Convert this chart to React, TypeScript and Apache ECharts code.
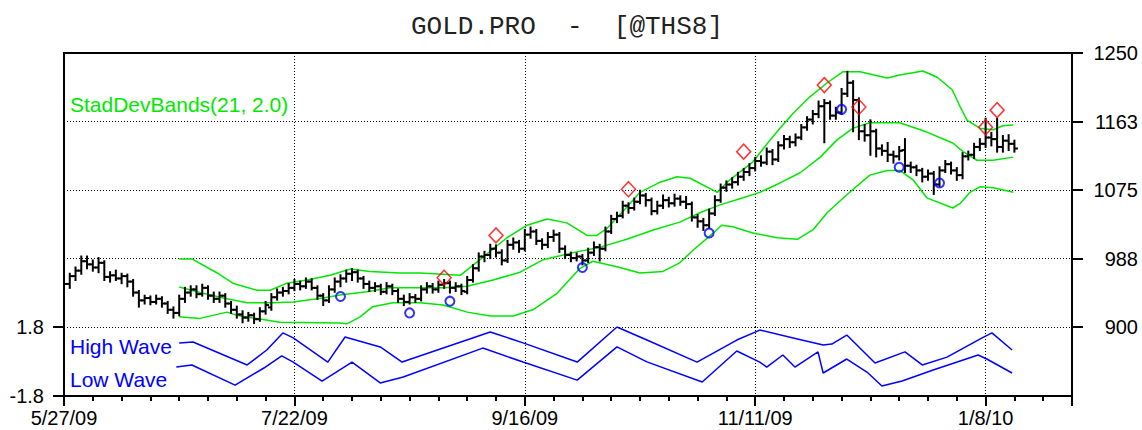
import React, { useEffect, useRef } from 'react';
import * as echarts from 'echarts';

// x positions are trading-bar indices; labelled bars
const dateTickIndex = [0, 40, 80, 120, 160];
const dateTickLabels = ['5/27/09', '7/22/09', '9/16/09', '11/11/09', '1/8/10'];

// [open, high, low, close] per bar
const ohlc: number[][] = [
  [950, 962, 943, 955], [955, 968, 950, 965], [965, 976, 960, 972], [972, 990, 968, 984], [984, 990, 975, 980],
  [980, 985, 972, 976], [976, 988, 970, 982], [982, 984, 960, 964], [964, 970, 958, 966], [966, 972, 960, 962],
  [962, 968, 956, 965], [965, 967, 952, 958], [958, 960, 940, 944], [944, 946, 926, 934], [934, 940, 930, 937],
  [937, 939, 929, 932], [932, 940, 930, 936], [936, 938, 926, 930], [930, 932, 918, 922], [922, 925, 912, 918],
  [918, 940, 915, 936], [936, 950, 932, 944], [944, 952, 940, 948], [948, 952, 938, 942], [942, 954, 940, 950],
  [950, 952, 936, 940], [940, 944, 932, 936], [936, 944, 932, 940], [940, 942, 926, 930], [930, 932, 918, 922],
  [922, 926, 912, 916], [916, 920, 906, 912], [912, 918, 908, 915], [915, 917, 905, 910], [910, 924, 908, 920],
  [920, 932, 917, 928], [925, 942, 922, 938], [938, 948, 935, 944], [944, 950, 940, 946], [946, 955, 943, 950],
  [950, 960, 947, 955], [955, 958, 948, 952], [952, 962, 950, 958], [958, 961, 948, 950], [950, 952, 936, 940],
  [940, 942, 928, 934], [934, 952, 932, 948], [948, 962, 945, 958], [958, 966, 952, 962], [962, 972, 958, 968],
  [968, 974, 960, 970], [970, 972, 958, 962], [962, 964, 950, 955], [955, 958, 946, 950], [950, 956, 946, 952],
  [952, 954, 942, 945], [945, 956, 943, 952], [952, 954, 942, 946], [946, 948, 932, 936], [936, 940, 928, 932],
  [932, 942, 930, 938], [938, 941, 932, 936], [936, 952, 934, 948], [948, 956, 944, 952], [952, 955, 944, 948],
  [948, 958, 945, 954], [954, 960, 950, 956], [956, 958, 944, 950], [950, 956, 946, 952], [952, 954, 942, 946],
  [945, 964, 943, 960], [960, 979, 958, 975], [975, 994, 972, 990], [990, 996, 984, 992], [992, 1005, 988, 1000],
  [1000, 1004, 990, 995], [995, 998, 980, 985], [985, 1010, 983, 1005], [1005, 1013, 1000, 1008], [1008, 1010, 996, 1000],
  [1000, 1024, 998, 1018], [1018, 1027, 1014, 1022], [1022, 1024, 1006, 1010], [1010, 1012, 1000, 1005], [1005, 1020, 1002, 1015],
  [1015, 1023, 1010, 1018], [1018, 1020, 996, 1000], [1000, 1003, 988, 992], [992, 995, 984, 988], [988, 994, 985, 990],
  [990, 992, 980, 985], [985, 1000, 983, 995], [995, 1008, 992, 1002], [1002, 1005, 985, 1000], [1000, 1027, 998, 1022],
  [1022, 1042, 1020, 1038], [1038, 1046, 1034, 1042], [1042, 1060, 1040, 1055], [1055, 1058, 1046, 1052], [1052, 1064, 1050, 1060],
  [1060, 1074, 1058, 1068], [1068, 1070, 1055, 1062], [1062, 1064, 1044, 1048], [1048, 1060, 1045, 1055], [1055, 1068, 1052, 1062],
  [1062, 1065, 1054, 1058], [1058, 1069, 1055, 1064], [1064, 1067, 1056, 1060], [1060, 1066, 1052, 1057], [1057, 1059, 1036, 1040],
  [1040, 1043, 1028, 1035], [1035, 1038, 1024, 1030], [1030, 1050, 1027, 1045], [1045, 1067, 1043, 1062], [1062, 1082, 1060, 1078],
  [1078, 1086, 1074, 1082], [1082, 1090, 1078, 1085], [1085, 1097, 1082, 1092], [1092, 1102, 1088, 1098], [1098, 1108, 1094, 1103],
  [1103, 1116, 1100, 1112], [1112, 1118, 1106, 1110], [1110, 1128, 1108, 1124], [1124, 1126, 1108, 1114], [1114, 1136, 1112, 1132],
  [1132, 1144, 1128, 1140], [1140, 1143, 1130, 1136], [1136, 1146, 1132, 1142], [1142, 1158, 1140, 1155], [1155, 1168, 1152, 1165],
  [1165, 1176, 1160, 1172], [1172, 1188, 1168, 1182], [1182, 1190, 1136, 1186], [1186, 1188, 1166, 1170], [1170, 1180, 1166, 1174],
  [1174, 1204, 1172, 1198], [1198, 1226, 1195, 1212], [1212, 1214, 1150, 1190], [1190, 1192, 1140, 1150], [1150, 1158, 1138, 1145],
  [1145, 1164, 1120, 1150], [1150, 1152, 1118, 1128], [1128, 1132, 1120, 1125], [1125, 1135, 1112, 1120], [1120, 1124, 1110, 1118],
  [1118, 1130, 1114, 1125], [1126, 1140, 1098, 1106], [1106, 1110, 1098, 1104], [1104, 1106, 1094, 1100], [1100, 1102, 1086, 1092],
  [1092, 1100, 1088, 1096], [1096, 1098, 1070, 1082], [1082, 1104, 1080, 1100], [1100, 1112, 1098, 1108], [1108, 1110, 1096, 1100],
  [1100, 1103, 1088, 1094], [1094, 1122, 1090, 1118], [1118, 1124, 1114, 1120], [1120, 1134, 1116, 1130], [1130, 1140, 1126, 1134],
  [1134, 1166, 1130, 1142], [1142, 1148, 1132, 1140], [1140, 1166, 1124, 1130], [1130, 1144, 1124, 1138], [1138, 1145, 1126, 1134],
  [1134, 1138, 1124, 1128],
];

// StadDevBands(21, 2.0): [bar, price]
const upperBand: number[][] = [
  [20, 987], [22.2, 987], [26.6, 969], [29.3, 956], [33.5, 947], [35.8, 947], [38.7, 956], [42.2, 960], [46.2, 966],
  [49.7, 974], [53.1, 971], [58.3, 969], [61.8, 969], [68.8, 966], [72.7, 989], [76.9, 1014], [80.4, 1030], [83.9, 1038],
  [87.3, 1033], [90.8, 1017], [92.5, 1017], [94.3, 1026], [97.7, 1053], [100, 1072], [103.5, 1085], [106.4, 1092],
  [108.7, 1090], [113.4, 1072], [115.6, 1088], [119.6, 1111], [122.6, 1139], [124.3, 1154], [126.6, 1173], [129.5, 1194],
  [132.5, 1212], [135.2, 1226], [138.2, 1226], [142.9, 1218], [145.1, 1222], [149.1, 1227], [151.6, 1219], [154.2, 1203],
  [155.6, 1181], [156.8, 1164], [159, 1154], [161.3, 1152], [163, 1157], [164.8, 1158],
];
const middleBand: number[][] = [
  [20, 951], [24.1, 943], [28.3, 936], [31.8, 931], [36.3, 931], [39.8, 932], [45, 937], [47.9, 941], [52.6, 945],
  [56.6, 950], [61.8, 950], [65.8, 950], [70, 952], [74.5, 960], [79.2, 970], [83.2, 986], [88.4, 995], [93.1, 1002],
  [97.7, 1012], [102.3, 1024], [106.9, 1034], [110.4, 1046], [113.9, 1056], [117.9, 1065], [120.8, 1072], [124.3, 1084],
  [127.8, 1097], [131.3, 1117], [134.2, 1139], [137, 1154], [139.9, 1161], [145.1, 1161], [149.8, 1149], [154.3, 1135],
  [156.1, 1124], [158.5, 1113], [161.3, 1113], [164.8, 1117],
];
const lowerBand: number[][] = [
  [20, 913], [23.6, 911], [28.3, 919], [30, 915], [37.5, 906], [47.9, 905], [49.1, 904], [51.4, 913], [53.6, 926],
  [57.1, 931], [61.8, 931], [65.8, 928], [70, 919], [74, 914], [78, 914], [81.4, 922], [85.6, 943], [89.6, 975],
  [91.8, 984], [96, 977], [100, 969], [104, 971], [106.9, 982], [109.2, 998], [112.7, 1020], [114.2, 1030], [116.1, 1028],
  [119.6, 1020], [123.8, 1014], [127.3, 1012], [130, 1024], [132.5, 1046], [135.9, 1069], [139.9, 1094], [142.9, 1100],
  [145.1, 1100], [147.4, 1088], [149.8, 1065], [154.3, 1052], [155.6, 1058], [157.3, 1072], [159, 1079], [161.3, 1078],
  [164.8, 1072],
];

const sellSignals: number[][] = [[66, 963], [75, 1017], [98, 1076], [118, 1124], [132, 1209], [138, 1181], [160, 1155], [162, 1177]];
const buySignals: number[][] = [[48, 939], [60, 918], [67, 933], [90, 976], [112, 1020], [135, 1178], [145, 1104], [152, 1084]];

const highWave: number[][] = [
  [20, 0.97], [22.4, 1.02], [31.8, -0.18], [35.2, 0.6], [38, 1.49], [39.8, 1.23], [45.8, -0.03], [48.8, 1.28], [54.9, 0.76],
  [58.7, -0.03], [74, 1.54], [79.7, 0.97], [89.1, -0.03], [96, 1.8], [101.2, 1.12], [109.9, -0.03], [116.8, 1.12],
  [120.8, 1.64], [126.6, 1.23], [131.8, 0.86], [133.3, 0.91], [135.9, 1.38], [140.8, -0.08], [146, 0.5], [149, -0.18],
  [153.3, 0.23], [159.4, 1.23], [161.1, 1.49], [164.6, 0.6],
];
const lowWave: number[][] = [
  [19.5, -0.29], [22.2, -0.18], [29.7, -1.23], [34.7, -0.34], [37.8, 0.29], [39.8, -0.03], [44.8, -1.02], [50, -0.03],
  [54.9, -1.12], [58.9, -0.81], [72.7, 0.7], [79.7, -0.03], [89.1, -0.97], [96, 0.76], [101.2, -0.02], [110.8, -1.07],
  [116.8, 0.55], [120.8, -0.03], [122, -0.29], [124.8, 0.34], [126.9, -0.29], [130.9, 0.5], [131.8, -0.6], [135.9, 0.13],
  [139.4, -0.55], [142, -1.28], [145.5, -1.02], [150.9, -0.44], [158.7, 0.34], [160.2, 0.13], [164.6, -0.6],
];

const FONT = 'Liberation Sans, Arial, sans-serif';
const GREEN = '#00e800';
const BLUE = '#0000ff';
const dotted = { show: true, lineStyle: { color: '#000', width: 1, type: [1, 2] as any } };
const solidLine = (show: boolean) => ({ show, onZero: false, lineStyle: { color: '#000', width: 2 } });

export default function App() {
  const ref = useRef<HTMLDivElement>(null);
  useEffect(() => {
    if (!ref.current) return;
    const chart = echarts.init(ref.current, undefined, { renderer: 'svg' });
    const xLabel = (v: number) => {
      const k = dateTickIndex.indexOf(Math.round(v));
      return k >= 0 ? dateTickLabels[k] : '';
    };
    const option: any = {
      animation: false,
      backgroundColor: '#fff',
      grid: [
        { left: 64, right: 70, top: 53, height: 274 },
        { left: 64, right: 70, top: 327, height: 69 },
      ],
      xAxis: [
        {
          type: 'value', gridIndex: 0, position: 'top', min: 0, max: 175, interval: 40,
          axisLine: solidLine(true),
          axisTick: { show: false }, axisLabel: { show: false }, splitLine: dotted,
        },
        {
          type: 'value', gridIndex: 1, position: 'bottom', min: 0, max: 175, interval: 40,
          axisLine: solidLine(false),
          axisTick: { show: true, length: 10, lineStyle: { color: '#000', width: 2 } },
          axisLabel: { show: true, formatter: xLabel, color: '#000', fontSize: 20, fontFamily: FONT, margin: 12 },
          splitLine: dotted,
        },
        {
          type: 'value', gridIndex: 1, position: 'bottom', min: 0, max: 175, interval: 5,
          axisLine: solidLine(true),
          axisTick: { show: true, length: 5, lineStyle: { color: '#000', width: 2 } },
          axisLabel: { show: false }, splitLine: { show: false },
        },
      ],
      yAxis: [
        {
          type: 'value', gridIndex: 0, position: 'right', min: 900, max: 1250, interval: 87.5,
          axisLine: solidLine(true),
          axisTick: { show: true, length: 11, lineStyle: { color: '#000', width: 2 } },
          axisLabel: {
            show: true, formatter: (v: number) => String(Math.round(v)), color: '#000',
            fontSize: 20, fontFamily: FONT, align: 'right', margin: 66,
          },
          splitLine: dotted,
        },
        {
          type: 'value', gridIndex: 1, position: 'left', min: -1.8, max: 1.8, interval: 3.6,
          axisLine: solidLine(true),
          axisTick: { show: true, length: 11, lineStyle: { color: '#000', width: 2 } },
          axisLabel: {
            show: true, formatter: (v: number) => v.toFixed(1), color: '#000',
            fontSize: 20, fontFamily: FONT, margin: 20,
          },
          splitLine: { show: false },
        },
        {
          type: 'value', gridIndex: 0, position: 'left', min: 0, max: 1,
          axisLine: solidLine(true),
          axisTick: { show: false }, axisLabel: { show: false }, splitLine: { show: false },
        },
        {
          type: 'value', gridIndex: 1, position: 'right', min: 0, max: 1,
          axisLine: solidLine(true),
          axisTick: { show: false }, axisLabel: { show: false }, splitLine: { show: false },
        },
      ],
      graphic: [
        {
          type: 'text', x: 567, y: 27,
          style: {
            text: 'GOLD.PRO  -  [@THS8]', fill: '#222', fontSize: 26,
            fontFamily: 'Liberation Mono, Courier New, monospace',
            textAlign: 'center', textVerticalAlign: 'middle',
          },
        },
        {
          type: 'text', x: 70, y: 104, z: 10,
          style: { text: 'StadDevBands(21, 2.0)', fill: GREEN, fontSize: 21, fontFamily: FONT, textVerticalAlign: 'middle' },
        },
        {
          type: 'text', x: 70, y: 346, z: 10,
          style: { text: 'High Wave', fill: BLUE, fontSize: 21, fontFamily: FONT, textVerticalAlign: 'middle' },
        },
        {
          type: 'text', x: 70, y: 379, z: 10,
          style: { text: 'Low Wave', fill: BLUE, fontSize: 21, fontFamily: FONT, textVerticalAlign: 'middle' },
        },
      ],
      series: [
        {
          type: 'line', xAxisIndex: 0, yAxisIndex: 0, data: upperBand, showSymbol: false, smooth: false,
          lineStyle: { color: GREEN, width: 1.5 }, z: 2,
        },
        {
          type: 'line', xAxisIndex: 0, yAxisIndex: 0, data: middleBand, showSymbol: false,
          lineStyle: { color: GREEN, width: 1.5 }, z: 2,
        },
        {
          type: 'line', xAxisIndex: 0, yAxisIndex: 0, data: lowerBand, showSymbol: false,
          lineStyle: { color: GREEN, width: 1.5 }, z: 2,
        },
        {
          type: 'custom', xAxisIndex: 0, yAxisIndex: 0, clip: true, z: 3,
          data: ohlc.map((r, i) => [i, r[0], r[1], r[2], r[3]]),
          encode: { x: 0, y: [1, 2, 3, 4] },
          renderItem: (params: any, api: any) => {
            const i = api.value(0);
            const ph = api.coord([i, api.value(2)]);
            const pl = api.coord([i, api.value(3)]);
            const po = api.coord([i, api.value(1)]);
            const pc = api.coord([i, api.value(4)]);
            const st = { stroke: '#000', lineWidth: 2 };
            return {
              type: 'group',
              children: [
                { type: 'line', shape: { x1: ph[0], y1: ph[1] - 1, x2: pl[0], y2: pl[1] + 1 }, style: st },
                { type: 'line', shape: { x1: po[0] - 3.5, y1: po[1], x2: po[0], y2: po[1] }, style: st },
                { type: 'line', shape: { x1: pc[0], y1: pc[1], x2: pc[0] + 3.5, y2: pc[1] }, style: st },
              ],
            };
          },
        },
        {
          type: 'scatter', xAxisIndex: 0, yAxisIndex: 0, data: sellSignals, symbol: 'diamond', symbolSize: [14, 15], z: 4,
          itemStyle: { color: 'rgba(0,0,0,0)', borderColor: '#ff0000', borderWidth: 1.5 },
        },
        {
          type: 'scatter', xAxisIndex: 0, yAxisIndex: 0, data: buySignals, symbol: 'circle', symbolSize: 9, z: 4,
          itemStyle: { color: 'rgba(0,0,0,0)', borderColor: BLUE, borderWidth: 2 },
        },
        {
          type: 'line', xAxisIndex: 1, yAxisIndex: 1, data: highWave, showSymbol: false,
          lineStyle: { color: BLUE, width: 1.5 },
        },
        {
          type: 'line', xAxisIndex: 1, yAxisIndex: 1, data: lowWave, showSymbol: false,
          lineStyle: { color: BLUE, width: 1.5 },
        },
      ],
    };
    chart.setOption(option);
    return () => chart.dispose();
  }, []);
  return <div ref={ref} style={{ position: 'absolute', left: 0, top: 0, width: 1142, height: 430 }} />;
}
